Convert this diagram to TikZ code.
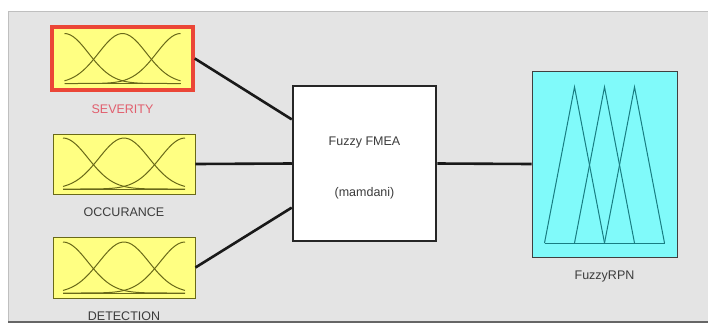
\documentclass[tikz,border=0pt]{standalone}
\usepackage{fontspec}
\setmainfont{Liberation Sans}
\usepackage{tikz}
\usetikzlibrary{positioning,calc}

\definecolor{panelgray}{RGB}{228,228,228}
\definecolor{mfyellow}{RGB}{255,255,130}
\definecolor{mfolive}{RGB}{105,105,25}
\definecolor{mfred}{RGB}{235,70,55}
\definecolor{mfcyan}{RGB}{128,250,250}
\definecolor{mfteal}{RGB}{25,125,130}
\definecolor{labelgray}{RGB}{60,60,60}
\definecolor{labelred}{RGB}{225,95,110}

\tikzset{
  inbox/.style={draw=mfolive, line width=0.9pt, fill=mfyellow, minimum width=142pt, minimum height=60pt, inner sep=0pt},
  outbox/.style={draw=black!75, line width=0.9pt, fill=mfcyan, minimum width=145pt, minimum height=186pt, inner sep=0pt},
  rulebox/.style={draw=black!85, line width=2.5pt, fill=white, minimum width=143pt, minimum height=155pt, align=center, inner sep=0pt},
  boxlabel/.style={text=labelgray, inner sep=0pt, font=\fontsize{12.5}{14}\selectfont},
  link/.style={line width=2.6pt, black!90},
  gaussmf/.style={mfolive, line width=1pt, smooth, samples=40},
  trimf/.style={mfteal, line width=1pt}
}

\begin{document}
\begin{tikzpicture}[x=1pt,y=-1pt]
    \useasboundingbox (0,0) rectangle (708,327);

    % panel
    \fill[panelgray] (8,11) rectangle (708,322);
    \draw[black!25, line width=0.8pt] (8,322) -- (8,11) -- (708,11);
    \draw[black!60, line width=2pt] (8,322) -- (708,322);

    % Inputs
    \node[inbox, draw=mfred, line width=3.5pt, minimum width=141pt, minimum height=63pt] (sev) at (122.5,58.5) {};
    \node[inbox] (occ) at (124,164) {};
    \node[inbox, minimum height=61pt] (det) at (124,267.5) {};

    \node[boxlabel, text=labelred, below=13pt of sev] (sevlab) {SEVERITY};
    \node[boxlabel, below=13pt of occ] (occlab) {OCCURANCE};
    \node[boxlabel, below=13pt of det] (detlab) {DETECTION};

    % membership functions of the inputs
    \begin{scope}[shift={(sev.center)}]
      \draw[gaussmf, domain=-58:58] plot (\x, {25-50*exp(-((\x+58)^2)/(2*24^2))});
      \draw[gaussmf, domain=-58:58] plot (\x, {25-50*exp(-((\x)^2)/(2*24^2))});
      \draw[gaussmf, domain=-58:58] plot (\x, {25-50*exp(-((\x-58)^2)/(2*24^2))});
      \draw[mfolive, line width=1pt] (-58,25) -- (58,25);
    \end{scope}

    \begin{scope}[shift={(occ.center)}]
      \draw[gaussmf, domain=-61:61] plot (\x, {25-51*exp(-((\x+61)^2)/(2*25^2))});
      \draw[gaussmf, domain=-61:61] plot (\x, {25-51*exp(-((\x)^2)/(2*25^2))});
      \draw[gaussmf, domain=-61:61] plot (\x, {25-51*exp(-((\x-61)^2)/(2*25^2))});
      \draw[mfolive, line width=1pt] (-61,25) -- (61,25);
    \end{scope}

    \begin{scope}[shift={(det.center)}]
      \draw[gaussmf, domain=-61:61] plot (\x, {25.5-51*exp(-((\x+61)^2)/(2*25^2))});
      \draw[gaussmf, domain=-61:61] plot (\x, {25.5-51*exp(-((\x)^2)/(2*25^2))});
      \draw[gaussmf, domain=-61:61] plot (\x, {25.5-51*exp(-((\x-61)^2)/(2*25^2))});
      \draw[mfolive, line width=1pt] (-61,25.5) -- (61,25.5);
    \end{scope}

    % Rule block
    \node[rulebox] (fmea) at (364.5,163.5) {};
    \node[boxlabel] (fmeatop) at (364.5,142) {Fuzzy FMEA};
    \node[boxlabel] (fmeabot) at (364.5,193) {(mamdani)};

    % Output
    \node[outbox] (rpn) at (604.5,164) {};
    \node[boxlabel, below=13pt of rpn] (rpnlab) {FuzzyRPN};
    \begin{scope}[shift={(rpn.center)}]
      \draw[trimf] (-60,79) -- (-30,-77) -- (0,79);
      \draw[trimf] (-30,79) -- (0,-77) -- (30,79);
      \draw[trimf] (0,79) -- (30,-77) -- (60,79);
      \draw[trimf] (-60,79) -- (60,79);
    \end{scope}

    % connectors
    \draw[link] (sev.east) -- ($(fmea.north west)!0.22!(fmea.south west)$);
    \draw[link] (occ.east) -- (fmea.west);
    \draw[link] (det.east) -- ($(fmea.north west)!0.78!(fmea.south west)$);
    \draw[link] (fmea.east) -- (rpn.west);

  \end{tikzpicture}
\end{document}
